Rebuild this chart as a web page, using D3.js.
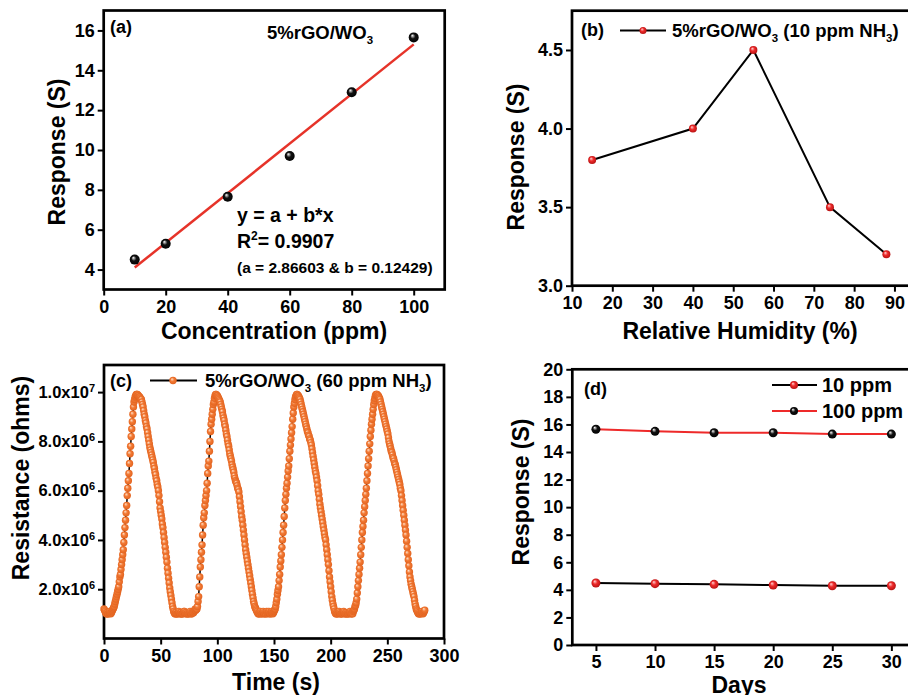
<!DOCTYPE html>
<html>
<head>
<meta charset="utf-8">
<script src="https://cdn.jsdelivr.net/npm/d3@7"></script>
<style>
body { margin: 0; background: #fff; }
svg { display: block; font-family: "Liberation Sans", Arial, sans-serif; font-weight: bold; }
</style>
</head>
<body>
<script>
// ---- (a) response vs concentration
var concPpm = [10, 20, 40, 60, 80, 100];
var concResponse = [4.5, 5.3, 7.65, 9.7, 12.9, 15.65];
var fitX = [10, 100];
var fitY = [4.1, 15.3];
var aXTicks = [0, 20, 40, 60, 80, 100];
var aYTicks = [4, 6, 8, 10, 12, 14, 16];

// ---- (b) response vs relative humidity
var humidity = [15, 40, 55, 74, 88];
var humResponse = [3.8, 4.0, 4.5, 3.5, 3.2];
var bXTicks = [10, 20, 30, 40, 50, 60, 70, 80, 90];
var bYTicks = [3.0, 3.5, 4.0, 4.5];

// ---- (c) resistance (x10^6 ohms), one sample every 0.5 s
var timeStep = 0.5;
var resCycle1 = [ // from 0 s
  1.2,1.15,1.1,1.05,1.0,1.0,1.05,1.0,1.0,1.05,1.1,1.05,1.0,1.05,1.1,1.15,1.2,1.25,
  1.3,1.4,1.5,1.6,1.7,1.8,1.9,2.0,2.1,2.3,2.5,2.6,2.8,3.0,3.2,3.4,3.6,3.9,4.2,4.5,
  4.8,5.1,5.4,5.8,6.1,6.4,6.7,7.1,7.5,7.8,8.2,8.5,8.8,9.1,9.4,9.6,
  9.7,9.8,9.85,9.9,9.9,9.9,9.85,9.85,9.8,9.8,9.75,9.7,9.7,9.6,
  9.5,9.4,9.25,9.1,9.0,8.85,8.75,8.6,8.5,8.35,8.2,8.05,7.9,7.75,7.65,7.55,7.45,7.35,
  7.25,7.15,7.0,6.9,6.75,6.65,6.5,6.4,6.25,6.15,6.0,5.8,5.55,5.3,5.15,5.0,4.85,4.65,
  4.5,4.3,4.1,3.9,3.7,3.5,3.3,3.1,2.85,2.65,2.45,2.25,2.05,1.9,1.75,1.6,1.45,1.3,1.2,1.1,
  1.05,1.0,1.0,1.05,1.0,1.0,1.0,1.05,1.1,1.05,1.0,1.0,1.05,1.0,1.0,1.0,1.05,1.1,1.1,1.05,
  1.0,1.05,1.0,1.0,1.05,1.0,1.0,1.05,1.1,1.05,1.0,1.0,1.05,1.1,1.05,1.1,1.15,1.2,1.15,1.2
];
var resCycle2 = [ // from 82 s
  1.2,1.3,1.5,1.7,2.1,2.5,2.9,3.2,3.5,3.8,4.2,4.6,4.9,5.1,5.4,5.6,5.8,6.0,6.3,6.7,
  7.0,7.2,7.6,8.0,8.4,8.7,8.9,9.1,9.3,9.5,9.6,9.75,
  9.85,9.9,9.9,9.85,9.85,9.8,9.75,9.7,
  9.65,9.6,9.5,9.4,9.3,9.2,9.05,8.95,8.85,8.7,8.6,8.45,8.3,8.2,8.05,7.9,7.8,7.65,7.5,7.4,
  7.3,7.2,7.05,6.95,6.85,6.75,6.6,6.5,6.4,6.35,6.3,6.2,6.1,6.05,5.95,5.75,5.55,5.35,5.15,4.95,
  4.8,4.6,4.4,4.2,4.0,3.8,3.6,3.45,3.3,3.15,3.0,2.85,2.7,2.55,2.4,2.25,2.1,1.95,1.8,1.65,
  1.5,1.4,1.3,1.25,1.2,1.15,1.1,1.05,
  1.0,1.0,1.05,1.0,1.1,1.05,1.0,1.0,1.05,1.1,1.05,1.0,1.0,1.05,1.0,1.1,1.05,1.0,1.05,1.1,
  1.05,1.0,1.0,1.05,1.1,1.05,1.0,1.05,1.1,1.15
];
var resCycle3 = [ // from 151 s
  1.2,1.3,1.45,1.6,1.8,1.95,2.1,2.35,2.6,2.9,3.15,3.4,3.7,4.0,4.3,4.6,4.95,5.3,5.6,5.85,
  6.1,6.3,6.55,6.8,7.0,7.3,7.6,7.85,8.1,8.35,8.6,8.9,9.15,9.4,
  9.55,9.7,9.8,9.85,9.9,9.9,9.85,9.85,9.8,9.75,9.7,9.6,9.5,9.4,9.3,9.2,
  9.1,9.0,8.9,8.8,8.7,8.6,8.5,8.4,8.35,8.25,8.2,8.1,8.05,7.95,7.85,7.7,7.55,7.4,7.25,7.1,
  6.95,6.8,6.7,6.55,6.4,6.2,6.0,5.85,5.65,5.45,5.3,5.15,5.0,4.85,4.7,4.55,4.4,4.25,4.1,4.0,
  3.8,3.6,3.4,3.2,3.0,2.75,2.5,2.3,2.1,1.9,1.7,1.55,1.4,1.3,1.2,1.1,
  1.05,1.0,1.0,1.05,1.0,1.0,1.05,1.1,1.05,1.0,1.0,1.0,1.05,1.0,1.05,1.1,1.05,1.0,1.0,1.05,
  1.0,1.0,1.05,1.0,1.0,1.05,1.1,1.05,1.0,1.0,1.05,1.0,1.1,1.15,1.2,1.3,1.35,1.45
];
var resCycle4 = [ // from 223 s
  1.6,1.85,2.1,2.35,2.6,2.85,3.1,3.4,3.7,4.0,4.3,4.55,4.8,5.1,5.35,5.6,5.85,6.1,6.4,6.7,
  7.0,7.3,7.6,7.9,8.2,8.45,8.7,8.9,9.1,9.3,9.5,9.65,
  9.75,9.85,9.9,9.9,9.9,9.85,9.85,9.8,9.75,9.7,9.6,9.5,9.4,9.3,9.2,9.1,
  9.0,8.9,8.8,8.7,8.6,8.5,8.4,8.3,8.15,8.0,7.9,7.8,7.7,7.6,7.55,7.45,7.35,7.3,7.2,7.1,
  7.05,6.95,6.85,6.75,6.65,6.55,6.45,6.35,6.25,6.1,6.0,5.8,5.6,5.4,5.2,5.0,4.8,4.6,4.4,4.2,
  3.95,3.7,3.45,3.2,2.95,2.7,2.5,2.35,2.2,2.1,2.0,1.9,1.8,1.7,1.55,1.4,1.3,1.2,1.15,1.1,
  1.05,1.0,1.0,1.05,1.0,1.0,1.05,1.1,1.05,1.0,1.05,1.1,1.15
];
var cycleStarts = [0, 82, 151, 223];
var cXTicks = [0, 50, 100, 150, 200, 250, 300];
var cYTicks = [2, 4, 6, 8, 10];
var cYLabels = [["2.0x10", "6"], ["4.0x10", "6"], ["6.0x10", "6"], ["8.0x10", "6"], ["1.0x10", "7"]];

// ---- (d) stability over days
var days = [5, 10, 15, 20, 25, 30];
var resp10ppm = [4.5, 4.45, 4.4, 4.35, 4.3, 4.3];
var resp100ppm = [15.65, 15.5, 15.4, 15.4, 15.3, 15.3];
var dXTicks = [5, 10, 15, 20, 25, 30];
var dYTicks = [0, 2, 4, 6, 8, 10, 12, 14, 16, 18, 20];


var svg = d3.select("body").append("svg").attr("width", 908).attr("height", 695);
var defs = svg.append("defs");

function ball(id, light, mid, dark){
  let gr = defs.append("radialGradient").attr("id", id)
    .attr("cx", "50%").attr("cy", "50%").attr("r", "55%").attr("fx", "35%").attr("fy", "30%");
  gr.append("stop").attr("offset", "0%").attr("stop-color", light);
  gr.append("stop").attr("offset", "45%").attr("stop-color", mid);
  gr.append("stop").attr("offset", "100%").attr("stop-color", dark);
}
ball("ballBlack", "#ffffff", "#111111", "#000000");
ball("ballRed", "#ffd6d6", "#ee2a2a", "#b01010");
ball("ballOrange", "#ffe2cc", "#f27a35", "#e0601c");

function panel(xDom, xRange, yDom, yRange, t){
  let x = d3.scaleLinear().domain(xDom).range(xRange);
  let y = d3.scaleLinear().domain(yDom).range(yRange);
  let g = svg.append("g");

  let gx = g.append("g").attr("transform", "translate(0," + yRange[0] + ")");
  gx.call(d3.axisBottom(x).tickValues(t.xMinor).tickSize(3.5).tickFormat(""));
  gx.call(d3.axisBottom(x).tickValues(t.xMajor).tickSize(6).tickPadding(4.5));
  let gy = g.append("g").attr("transform", "translate(" + xRange[0] + ",0)");
  gy.call(d3.axisLeft(y).tickValues(t.yMinor).tickSize(3.5).tickFormat(""));
  gy.call(d3.axisLeft(y).tickValues(t.yMajor).tickSize(6).tickPadding(3).tickFormat(t.yFormat || null));

  for (let a of [gx, gy]){
    a.attr("font-size", 18).attr("font-family", null);
    a.selectAll(".domain").remove();
    a.selectAll(".tick line").attr("stroke-width", 2);
  }

  g.append("rect")
    .attr("x", xRange[0]).attr("y", yRange[1])
    .attr("width", xRange[1] - xRange[0]).attr("height", yRange[0] - yRange[1])
    .attr("fill", "none").attr("stroke", "#000").attr("stroke-width", 2.7);

  return {g: g, x: x, y: y, gy: gy};
}

function minorSteps(lo, hi, step){
  let out = [];
  for (let v = lo; v <= hi + 1e-9; v += step) out.push(+v.toFixed(4));
  return out;
}

function title(text, x, y, rotate){
  let t = svg.append("text").attr("font-size", 23).attr("text-anchor", "middle").text(text);
  if (rotate) t.attr("transform", "translate(" + x + "," + y + ") rotate(-90)");
  else t.attr("x", x).attr("y", y);
}

function chemLabel(x, y, size, parts){
  // parts: [text, "sub"|"sup"|null]
  let t = svg.append("text").attr("x", x).attr("y", y).attr("font-size", size);
  let shift = 0;
  for (let p of parts){
    let want = p[1] == "sub" ? 5 : (p[1] == "sup" ? -8 : 0);
    t.append("tspan").attr("dy", want - shift).attr("font-size", p[1] ? size * 0.62 : size).text(p[0]);
    shift = want;
  }
  return t;
}

// ================= (a)
let pa = panel([0, 110], [103.7, 444.7], [3, 17], [289.5, 10.5], {
  xMajor: aXTicks, xMinor: [10, 30, 50, 70, 90],
  yMajor: aYTicks, yMinor: [5, 7, 9, 11, 13, 15]
});
pa.g.append("path")
  .attr("d", d3.line().x(d => pa.x(d)).y((d, i) => pa.y(fitY[i]))(fitX))
  .attr("stroke", "#e63329").attr("stroke-width", 2.5).attr("fill", "none");
pa.g.selectAll("circle.pt").data(concPpm).join("circle")
  .attr("cx", d => pa.x(d)).attr("cy", (d, i) => pa.y(concResponse[i]))
  .attr("r", 5).attr("fill", "url(#ballBlack)");
svg.append("text").attr("x", 110).attr("y", 33).attr("font-size", 18).text("(a)");
chemLabel(267, 39, 18.5, [["5%rGO/WO", null], ["3", "sub"]]);
svg.append("text").attr("x", 237).attr("y", 222).attr("font-size", 19.5).text("y = a + b*x");
chemLabel(237, 248, 19.5, [["R", null], ["2", "sup"], ["= 0.9907", null]]);
svg.append("text").attr("x", 237).attr("y", 273).attr("font-size", 15.5).text("(a = 2.86603 & b = 0.12429)");
title("Concentration (ppm)", 274, 338.5);
title("Response (S)", 65, 152, true);

// ================= (b)
let pb = panel([10, 95], [572, 914.6], [3, 4.75], [285.7, 10.7], {
  xMajor: bXTicks, xMinor: [15, 25, 35, 45, 55, 65, 75, 85],
  yMajor: bYTicks, yMinor: [3.25, 3.75, 4.25],
  yFormat: d3.format(".1f")
});
pb.g.append("path")
  .attr("d", d3.line().x(d => pb.x(d)).y((d, i) => pb.y(humResponse[i]))(humidity))
  .attr("stroke", "#000").attr("stroke-width", 2).attr("fill", "none");
pb.g.selectAll("circle.pt").data(humidity).join("circle")
  .attr("cx", d => pb.x(d)).attr("cy", (d, i) => pb.y(humResponse[i]))
  .attr("r", 4).attr("fill", "url(#ballRed)");
svg.append("text").attr("x", 581).attr("y", 36).attr("font-size", 18).text("(b)");
svg.append("line").attr("x1", 620).attr("x2", 666).attr("y1", 30.5).attr("y2", 30.5)
  .attr("stroke", "#000").attr("stroke-width", 2);
svg.append("circle").attr("cx", 643).attr("cy", 30.5).attr("r", 3.5).attr("fill", "url(#ballRed)");
chemLabel(672, 37, 18.5, [["5%rGO/WO", null], ["3", "sub"], [" (10 ppm NH", null], ["3", "sub"], [")", null]]);
title("Relative Humidity (%)", 740, 338.5);
title("Response (S)", 524, 157, true);

// ================= (c)
let pc = panel([0, 300], [104, 444], [0, 11.1], [638.5, 365], {
  xMajor: cXTicks, xMinor: [25, 75, 125, 175, 225, 275],
  yMajor: cYTicks, yMinor: [1, 3, 5, 7, 9, 11],
  yFormat: d => d
});
pc.gy.selectAll(".tick text").filter(d => cYTicks.includes(d)).each(function(d){
  let lab = cYLabels[cYTicks.indexOf(d)];
  let t = d3.select(this).text(null).attr("font-size", 16.5);
  t.append("tspan").text(lab[0]);
  t.append("tspan").attr("dy", "-0.55em").attr("font-size", 11).text(lab[1]);
});
let series = [];
[resCycle1, resCycle2, resCycle3, resCycle4].forEach((cyc, k) => {
  cyc.forEach((v, i) => series.push({t: cycleStarts[k] + i * timeStep, r: v}));
});
pc.g.append("path")
  .attr("d", d3.line().x(d => pc.x(d.t)).y(d => pc.y(d.r))(series))
  .attr("stroke", "#000").attr("stroke-width", 1.5).attr("fill", "none");
pc.g.selectAll("circle.pt").data(series).join("circle")
  .attr("cx", d => pc.x(d.t)).attr("cy", d => pc.y(d.r))
  .attr("r", 3.7).attr("fill", "url(#ballOrange)");
svg.append("text").attr("x", 110).attr("y", 387).attr("font-size", 18).text("(c)");
svg.append("line").attr("x1", 150).attr("x2", 197).attr("y1", 380.5).attr("y2", 380.5)
  .attr("stroke", "#000").attr("stroke-width", 2);
svg.append("circle").attr("cx", 173).attr("cy", 380.5).attr("r", 3.7).attr("fill", "url(#ballOrange)");
chemLabel(205, 387, 18.5, [["5%rGO/WO", null], ["3", "sub"], [" (60 ppm NH", null], ["3", "sub"], [")", null]]);
title("Time (s)", 276, 690);
title("Resistance (ohms)", 29, 478, true);

// ================= (d)
let pd = panel([3, 32], [572.3, 915], [0, 20], [645, 369.3], {
  xMajor: dXTicks, xMinor: [7.5, 12.5, 17.5, 22.5, 27.5],
  yMajor: dYTicks, yMinor: minorSteps(1, 19, 2)
});
pd.g.append("path")
  .attr("d", d3.line().x(d => pd.x(d)).y((d, i) => pd.y(resp10ppm[i]))(days))
  .attr("stroke", "#000").attr("stroke-width", 2).attr("fill", "none");
pd.g.append("path")
  .attr("d", d3.line().x(d => pd.x(d)).y((d, i) => pd.y(resp100ppm[i]))(days))
  .attr("stroke", "#ee2a2a").attr("stroke-width", 2).attr("fill", "none");
pd.g.selectAll("circle.p10").data(days).join("circle")
  .attr("cx", d => pd.x(d)).attr("cy", (d, i) => pd.y(resp10ppm[i]))
  .attr("r", 4.5).attr("fill", "url(#ballRed)");
pd.g.selectAll("circle.p100").data(days).join("circle")
  .attr("cx", d => pd.x(d)).attr("cy", (d, i) => pd.y(resp100ppm[i]))
  .attr("r", 4.5).attr("fill", "url(#ballBlack)");
svg.append("text").attr("x", 584).attr("y", 395).attr("font-size", 18).text("(d)");
let legD = [["10 ppm", "#000", "url(#ballRed)", 385], ["100 ppm", "#ee2a2a", "url(#ballBlack)", 411]];
for (let l of legD){
  svg.append("line").attr("x1", 772).attr("x2", 817).attr("y1", l[3]).attr("y2", l[3])
    .attr("stroke", l[1]).attr("stroke-width", 2);
  svg.append("circle").attr("cx", 794).attr("cy", l[3]).attr("r", 4).attr("fill", l[2]);
  svg.append("text").attr("x", 822).attr("y", l[3] + 7).attr("font-size", 20).text(l[0]);
}
title("Days", 739, 693);
title("Response (S)", 529, 492, true);
</script>
</body>
</html>
